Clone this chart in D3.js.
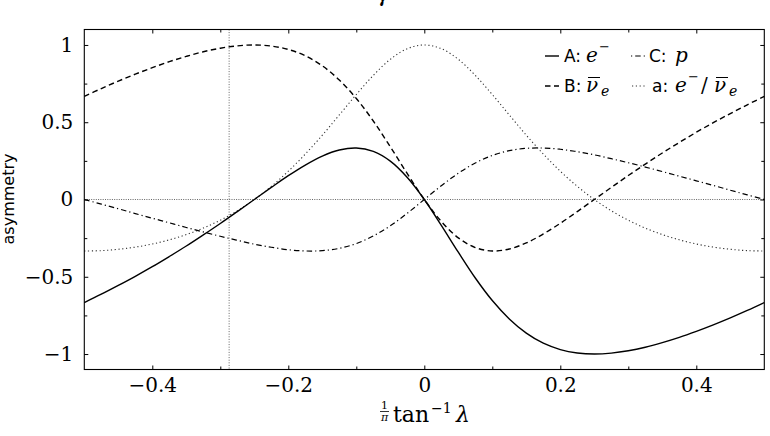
<!DOCTYPE html>
<html><head><meta charset="utf-8">
<script src="https://cdn.jsdelivr.net/npm/d3@7"></script>
<style>body{margin:0;background:#fff}svg{display:block}</style>
</head><body>
<svg id="chart" width="770" height="436"></svg>
<script>
const tValues = [-0.5,-0.475,-0.45,-0.425,-0.4,-0.375,-0.35,-0.325,-0.3,-0.275,-0.25,-0.225,-0.2,-0.175,-0.15,-0.125,-0.1,-0.075,-0.05,-0.025,0,0.025,0.05,0.075,0.1,0.125,0.15,0.175,0.2,0.225,0.25,0.275,0.3,0.325,0.35,0.375,0.4,0.425,0.45,0.475,0.5];
const seriesA = [-0.667,-0.613,-0.556,-0.497,-0.435,-0.369,-0.301,-0.229,-0.155,-0.078,0,0.078,0.154,0.223,0.281,0.320,0.333,0.311,0.248,0.142,0,-0.167,-0.341,-0.508,-0.654,-0.773,-0.865,-0.930,-0.971,-0.993,-1,-0.994,-0.979,-0.956,-0.926,-0.892,-0.853,-0.811,-0.766,-0.718,-0.667];
const seriesB = [0.667,0.718,0.766,0.811,0.853,0.892,0.926,0.956,0.979,0.994,1,0.993,0.971,0.930,0.865,0.773,0.654,0.508,0.341,0.167,0,-0.142,-0.248,-0.311,-0.333,-0.320,-0.281,-0.223,-0.154,-0.078,0,0.078,0.155,0.229,0.301,0.369,0.435,0.497,0.556,0.613,0.667];
const seriesC = [0,-0.030,-0.060,-0.091,-0.121,-0.151,-0.181,-0.210,-0.238,-0.264,-0.289,-0.309,-0.325,-0.333,-0.331,-0.316,-0.285,-0.236,-0.170,-0.089,0,0.089,0.170,0.236,0.285,0.316,0.331,0.333,0.325,0.309,0.289,0.264,0.238,0.210,0.181,0.151,0.121,0.091,0.060,0.030,0];
const seriesRatio = [-0.333,-0.331,-0.322,-0.308,-0.288,-0.261,-0.227,-0.185,-0.134,-0.073,0,0.085,0.183,0.294,0.416,0.547,0.679,0.803,0.907,0.976,1,0.976,0.907,0.803,0.679,0.547,0.416,0.294,0.183,0.085,0,-0.073,-0.134,-0.185,-0.227,-0.261,-0.288,-0.308,-0.322,-0.331,-0.333];
const xTicksMajor = [-0.4,-0.2,0,0.2,0.4];
const xTicksMinor = [-0.3,-0.1,0.1,0.3];
const yTicksMajor = [-1,-0.5,0,0.5,1];
const yTicksMinor = [-0.75,-0.25,0.25,0.75];
const markerT = [-0.287];
const xDomain = [-0.5,0.5];
const yDomain = [-1.1,1.1];

const svg = d3.select("#chart");
const L=84.3,R=764.3,T=29.5,B=369.5;
const x = d3.scaleLinear(xDomain,[L,R]);
const y = d3.scaleLinear(yDomain,[B,T]);
const serif = "'DejaVu Serif',serif";
const sans = "'DejaVu Sans',sans-serif";
const fmt = d3.format("~g");

// reference lines
svg.append("line").attr("x1",x(xDomain[0])).attr("x2",x(xDomain[1])).attr("y1",y(0)).attr("y2",y(0))
  .attr("stroke","#222").attr("stroke-width",0.7).attr("stroke-dasharray","1,1.3");
svg.selectAll("line.marker").data(markerT).join("line").attr("class","marker")
  .attr("x1",d=>x(d)).attr("x2",d=>x(d)).attr("y1",T).attr("y2",B)
  .attr("stroke","#666").attr("stroke-width",1).attr("stroke-dasharray","1,1.6");

const line = vals => d3.line().x((d,i)=>x(tValues[i])).y(d=>y(d)).curve(d3.curveCatmullRom.alpha(0.5))(vals);
const styles = [
  {v:seriesRatio, w:1.1, c:"#333", dash:"1.2,2.6"},
  {v:seriesC, w:1.2, c:"#000", dash:"5.5,3,1.2,3"},
  {v:seriesB, w:1.4, c:"#000", dash:"5.5,3.5"},
  {v:seriesA, w:1.4, c:"#000", dash:null}
];
styles.forEach(s=>{
  svg.append("path").attr("d",line(s.v)).attr("fill","none").attr("stroke",s.c)
    .attr("stroke-width",s.w).attr("stroke-dasharray",s.dash);
});

// axes
function styleAxis(g){ g.select(".domain").remove(); g.selectAll("line").attr("stroke","#000").attr("stroke-width",1);
  g.attr("font-family",serif).attr("font-size",20);
  g.selectAll("text").attr("font-family",serif).attr("font-size",20).attr("fill","#000"); }
svg.append("g").attr("transform",`translate(0,${B})`).call(d3.axisBottom(x).tickValues(xTicksMajor).tickSize(-4).tickPadding(8).tickFormat(fmt)).call(styleAxis);
svg.append("g").attr("transform",`translate(0,${B})`).call(d3.axisBottom(x).tickValues(xTicksMinor).tickSize(-3).tickFormat("")).call(styleAxis);
svg.append("g").attr("transform",`translate(0,${T})`).call(d3.axisTop(x).tickValues(xTicksMajor).tickSize(-4).tickFormat("")).call(styleAxis);
svg.append("g").attr("transform",`translate(0,${T})`).call(d3.axisTop(x).tickValues(xTicksMinor).tickSize(-3).tickFormat("")).call(styleAxis);
svg.append("g").attr("transform",`translate(${L},0)`).call(d3.axisLeft(y).tickValues(yTicksMajor).tickSize(-4).tickPadding(11).tickFormat(fmt)).call(styleAxis);
svg.append("g").attr("transform",`translate(${L},0)`).call(d3.axisLeft(y).tickValues(yTicksMinor).tickSize(-3).tickFormat("")).call(styleAxis);
svg.append("g").attr("transform",`translate(${R},0)`).call(d3.axisRight(y).tickValues(yTicksMajor).tickSize(-4).tickFormat("")).call(styleAxis);
svg.append("g").attr("transform",`translate(${R},0)`).call(d3.axisRight(y).tickValues(yTicksMinor).tickSize(-3).tickFormat("")).call(styleAxis);
svg.append("rect").attr("x",L).attr("y",T).attr("width",R-L).attr("height",B-T).attr("fill","none").attr("stroke","#000").attr("stroke-width",1.1);

// title fragment (cut at top edge, as in the reference)
svg.append("text").attr("x",377).attr("y",2).attr("font-family",serif).attr("font-style","italic").attr("font-size",20).text("γ");

// y label
svg.append("text").attr("transform","translate(14,199) rotate(-90)").attr("text-anchor","middle")
  .attr("font-family",sans).attr("font-size",16).text("asymmetry");

// x label
const xl = svg.append("g").attr("font-family",serif);
xl.append("text").attr("x",384.5).attr("y",409).attr("text-anchor","middle").attr("font-size",11).text("1");
xl.append("line").attr("x1",380).attr("x2",389).attr("y1",411.5).attr("y2",411.5).attr("stroke","#000").attr("stroke-width",0.8);
xl.append("text").attr("x",384.5).attr("y",421).attr("text-anchor","middle").attr("font-style","italic").attr("font-size",11).text("π");
xl.append("text").attr("x",393).attr("y",422).attr("font-size",22).text("tan");
xl.append("text").attr("x",431).attr("y",413).attr("font-size",14).text("−1");
xl.append("text").attr("x",456).attr("y",422).attr("font-style","italic").attr("font-size",22).text("λ");

// legend
const lg = svg.append("g");
const sample = (x1,yy,dash,w,c,off)=>lg.append("line").attr("x1",x1).attr("x2",x1+14).attr("y1",yy).attr("y2",yy)
  .attr("stroke",c).attr("stroke-width",w).attr("stroke-dasharray",dash).attr("stroke-dashoffset",off||0);
const txt = (xx,yy,s,o)=>lg.append("text").attr("x",xx).attr("y",yy).text(s)
  .attr("font-family",o.sans?sans:serif).attr("font-size",o.size).attr("font-style",o.it?"italic":null);
const bar = (x1,x2,yy)=>lg.append("line").attr("x1",x1).attr("x2",x2).attr("y1",yy).attr("y2",yy).attr("stroke","#000").attr("stroke-width",1);
sample(545,56,null,1.4,"#000");
txt(564,61.5,"A:",{sans:true,size:17});
txt(586,61.5,"e",{it:true,size:20});
txt(599,51,"−",{size:13});
sample(631,56,"5.5,3,1.2,3",1.2,"#000",8.5);
txt(649,61.5,"C:",{sans:true,size:17});
txt(675,61.5,"p",{it:true,size:20});
sample(545,86,"5.5,3.5",1.4,"#000");
txt(564,92,"B:",{sans:true,size:17});
txt(586,92,"ν",{it:true,size:20});
bar(588,600,77.5);
txt(601,96,"e",{it:true,size:14});
sample(632,86,"1.2,2.6",1.1,"#333");
txt(652,92,"a:",{sans:true,size:17});
txt(675,92,"e",{it:true,size:20});
txt(688,81,"−",{size:13});
txt(701,92,"/",{size:20});
txt(714,92,"ν",{it:true,size:20});
bar(716,728,77.5);
txt(729,96,"e",{it:true,size:14});
</script>
</body></html>
